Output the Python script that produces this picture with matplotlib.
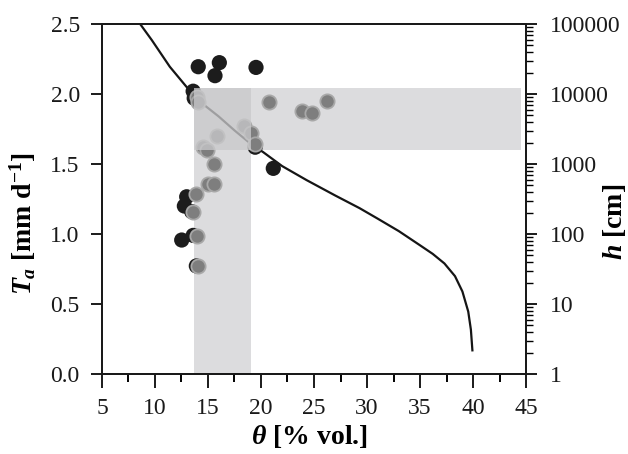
import numpy as np
import matplotlib.pyplot as plt
from matplotlib.patches import Rectangle
from matplotlib.ticker import FixedLocator, FuncFormatter, LogLocator, NullFormatter

plt.rcParams['font.family'] = ['Liberation Serif', 'DejaVu Serif']
plt.rcParams['mathtext.fontset'] = 'custom'
plt.rcParams['mathtext.rm'] = 'Liberation Serif:bold'
plt.rcParams['mathtext.it'] = 'Liberation Serif:italic:bold'
plt.rcParams['mathtext.bf'] = 'Liberation Serif:bold'

# measured transpiration vs. soil water content
theta_black = [14.08, 16.07, 15.66, 19.53, 13.60, 13.70, 21.16, 19.45,
               12.99, 12.77, 13.46, 12.52, 13.60, 13.90]
ta_black = [2.195, 2.224, 2.131, 2.190, 2.020, 1.970, 1.469, 1.620,
            1.266, 1.200, 1.160, 0.957, 0.990, 0.772]

theta_grey = [14.00, 14.05, 18.40, 19.03, 19.43, 15.88, 14.56, 14.87,
              15.57, 14.97, 15.60, 13.84, 13.61, 13.93, 14.08,
              20.79, 23.84, 24.78, 26.26]
ta_grey = [1.980, 1.945, 1.770, 1.720, 1.640, 1.700, 1.620, 1.600,
           1.500, 1.355, 1.360, 1.286, 1.160, 0.986, 0.771,
           1.943, 1.879, 1.862, 1.952]

# retention curve theta(h)
theta_curve = [8.6, 9.7, 11.4, 13.1, 13.77, 14.5, 16.0, 17.5, 19.1, 20.2,
               22.0, 24.3, 27.0, 29.3, 31.0, 33.0, 35.0, 36.2, 37.3, 38.3,
               39.0, 39.55, 39.8, 39.95]
h_curve = [100000, 58900, 24500, 12000, 9120, 7240, 4790, 3020, 1905, 1480,
           933, 589, 355, 234, 166, 110, 69, 52, 38, 25,
           15.1, 7.8, 4.3, 2.1]

# optimal ranges
theta_lo, theta_hi, theta_end = 13.7, 19.1, 44.5
ta_lo, ta_hi = 1.6, 2.04

fig = plt.figure(figsize=(6.28, 4.54), dpi=100)
ax1 = fig.add_axes([0.1624, 0.1762, 0.6752, 0.7709])
ax2 = ax1.twinx()
ax1.set_zorder(ax2.get_zorder() + 1)
ax1.patch.set_visible(False)

band = '#dcdcde'
ax2.add_patch(Rectangle((theta_lo, 0), theta_hi - theta_lo, ta_hi,
                        transform=ax1.transData, facecolor=band,
                        edgecolor='none', zorder=0))
ax2.add_patch(Rectangle((theta_lo, ta_lo), theta_end - theta_lo, ta_hi - ta_lo,
                        transform=ax1.transData, facecolor=band,
                        edgecolor='none', zorder=0))
ax2.plot(theta_curve, h_curve, color='#151515', lw=1.6, zorder=2,
         solid_capstyle='butt', solid_joinstyle='round')

ax1.scatter(theta_black, ta_black, s=120, color='#1c1c1c', edgecolors='none',
            zorder=3)
ax1.scatter(theta_grey, ta_grey, s=105, facecolor='#7e7e7e',
            edgecolors='#a8a8a8', linewidths=1.3, zorder=4)
ax1.add_patch(Rectangle((theta_lo, ta_lo), theta_hi - theta_lo, ta_hi - ta_lo,
                        facecolor='#c9c9cb', alpha=0.77, edgecolor='none',
                        zorder=5))

ax1.set_xlim(5, 45)
ax1.set_ylim(0, 2.5)
ax2.set_yscale('log')
ax2.set_ylim(1, 100000)

ax1.xaxis.set_major_locator(FixedLocator(np.arange(5, 46, 5)))
ax1.xaxis.set_minor_locator(FixedLocator(np.arange(7.5, 45, 5)))
ax1.yaxis.set_major_locator(FixedLocator(np.arange(0, 2.51, 0.5)))
ax1.yaxis.set_major_formatter(FuncFormatter(lambda v, p: f'{v:.1f}'))
ax2.yaxis.set_major_locator(LogLocator(base=10, numticks=10))
ax2.yaxis.set_minor_locator(LogLocator(base=10, subs=np.arange(2, 10), numticks=10))
ax2.yaxis.set_major_formatter(FuncFormatter(lambda v, p: f'{int(round(v))}'))
ax2.yaxis.set_minor_formatter(NullFormatter())

for sp in list(ax1.spines.values()) + list(ax2.spines.values()):
    sp.set_linewidth(1.4)
    sp.set_color('#1a1a1a')

ax1.tick_params(axis='x', which='major', direction='out', length=10,
                width=1.4, pad=7, labelsize=17, colors='#1a1a1a',
                top=False)
ax1.tick_params(axis='x', which='minor', direction='out', length=6,
                width=1.4, top=False)
ax1.tick_params(axis='y', which='major', direction='out', length=8,
                width=1.4, pad=8, labelsize=17, colors='#1a1a1a')
ax2.tick_params(axis='y', which='major', direction='out', length=8,
                width=1.4, pad=9, labelsize=17, colors='#1a1a1a')
ax2.tick_params(axis='y', which='minor', direction='out', length=5,
                width=1.0)

ax1.set_xlabel(r'$\theta$ [% vol.]', fontsize=20, fontweight='bold')
ax1.set_ylabel(r'$T_a$ [mm d$^{\mathregular{-1}}$]', fontsize=20,
               fontweight='bold')
ax2.set_ylabel(r'$h$ [cm]', fontsize=20, fontweight='bold', rotation=90)
ax1.xaxis.set_label_coords(0.49, -0.14)
ax1.yaxis.set_label_coords(-0.15, 0.43)
ax2.yaxis.set_label_coords(1.178, 0.435)

fig.savefig('out.png', dpi=100)
